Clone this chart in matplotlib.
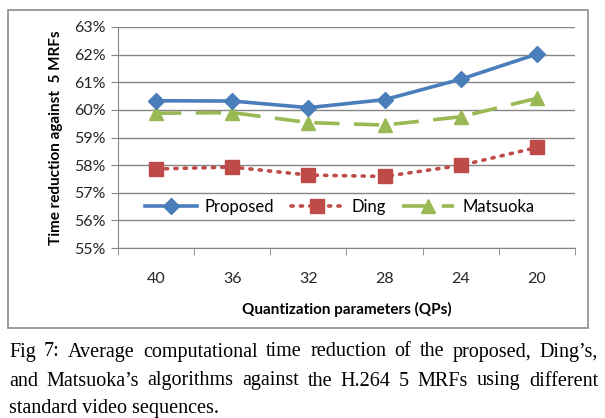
import matplotlib.pyplot as plt
from matplotlib.patches import Rectangle

qps = ['40', '36', '32', '28', '24', '20']
proposed = [60.33, 60.32, 60.08, 60.37, 61.11, 62.02]
ding = [57.86, 57.93, 57.64, 57.59, 57.99, 58.64]
matsuoka = [59.88, 59.90, 59.54, 59.45, 59.75, 60.42]
yticks = [55, 56, 57, 58, 59, 60, 61, 62, 63]

caption = [
    "Fig 7: Average computational time reduction of the proposed, Ding\u2019s,",
    "and Matsuoka\u2019s algorithms against the H.264 5 MRFs using different",
    "standard video sequences.",
]

W, H = 605, 418
fig = plt.figure(figsize=(W / 100, H / 100), dpi=100)
fig.patch.set_facecolor('white')

# outer chart frame
fig.patches.append(Rectangle((8 / W, 1 - 328 / H), 580 / W, 318 / H,
                             transform=fig.transFigure, fill=False,
                             edgecolor='#8c8c8c', linewidth=1.2))

ax = fig.add_axes([118 / W, 1 - 248 / H, 457 / W, 221 / H])
x = list(range(len(qps)))

ax.plot(x, proposed, color='#4a7ebb', lw=2.6, marker='D', ms=8,
        label='Proposed', zorder=4)
ax.plot(x, ding, color='#be4b48', lw=2.6, ls=(0, (0.6, 2.0)),
        dash_capstyle='round', marker='s', ms=10, label='Ding', zorder=3)
ax.plot(x, matsuoka, color='#98b954', lw=2.6, ls=(0, (7, 4)),
        marker='^', ms=10, label='Matsuoka', zorder=3)

ax.set_xlim(-0.5, len(qps) - 0.5)
ax.set_ylim(55, 63)
ax.set_yticks(yticks)
ax.set_yticklabels([f'{v}%' for v in yticks])
ax.set_xticks(x)
ax.set_xticklabels(qps)
ax.set_xticks([i - 0.5 for i in range(len(qps) + 1)], minor=True)
ax.tick_params(axis='x', which='major', length=0, pad=17)
ax.tick_params(axis='x', which='minor', length=5, color='#868686', direction='out')
ax.tick_params(axis='y', length=5, color='#868686', pad=4)
ax.tick_params(labelsize=11.5, labelcolor='#262626')
for lab in ax.get_xticklabels() + ax.get_yticklabels():
    lab.set_family('Lato')

ax.grid(axis='y', color='#868686', lw=1)
ax.set_axisbelow(True)
for s in ['top', 'right']:
    ax.spines[s].set_visible(False)
for s in ['left', 'bottom']:
    ax.spines[s].set_color('#868686')

ax.set_xlabel('Quantization parameters (QPs)', fontsize=11, fontweight='bold',
              family='Lato', labelpad=12)
ax.set_ylabel('Time reduction against  5 MRFs', fontsize=11, fontweight='bold',
              family='Lato', labelpad=8)

leg = ax.legend(loc='center', bbox_to_anchor=(0.485, 0.185), ncol=3,
                frameon=False, handlelength=3.1,
                columnspacing=1.0, handletextpad=0.5,
                prop={'family': 'Lato', 'size': 12})
leg.set_zorder(5)

# caption, justified lines
fig.canvas.draw()
r = fig.canvas.get_renderer()
x0, x1 = 9, 598
ys = [352, 381, 408]
fs = 14.5
for i, line in enumerate(caption):
    yf = 1 - ys[i] / H
    if i == len(caption) - 1:
        fig.text(x0 / W, yf, line, family='Liberation Serif', fontsize=fs,
                 va='center', ha='left')
        continue
    words = line.split(' ')
    texts = [fig.text(0, yf, w, family='Liberation Serif', fontsize=fs,
                      va='center', ha='left') for w in words]
    widths = [t.get_window_extent(r).width for t in texts]
    gap = (x1 - x0 - sum(widths)) / (len(words) - 1)
    pos = x0
    for t, w in zip(texts, widths):
        t.set_x(pos / W)
        pos += w + gap

fig.savefig('out.png', dpi=100)
